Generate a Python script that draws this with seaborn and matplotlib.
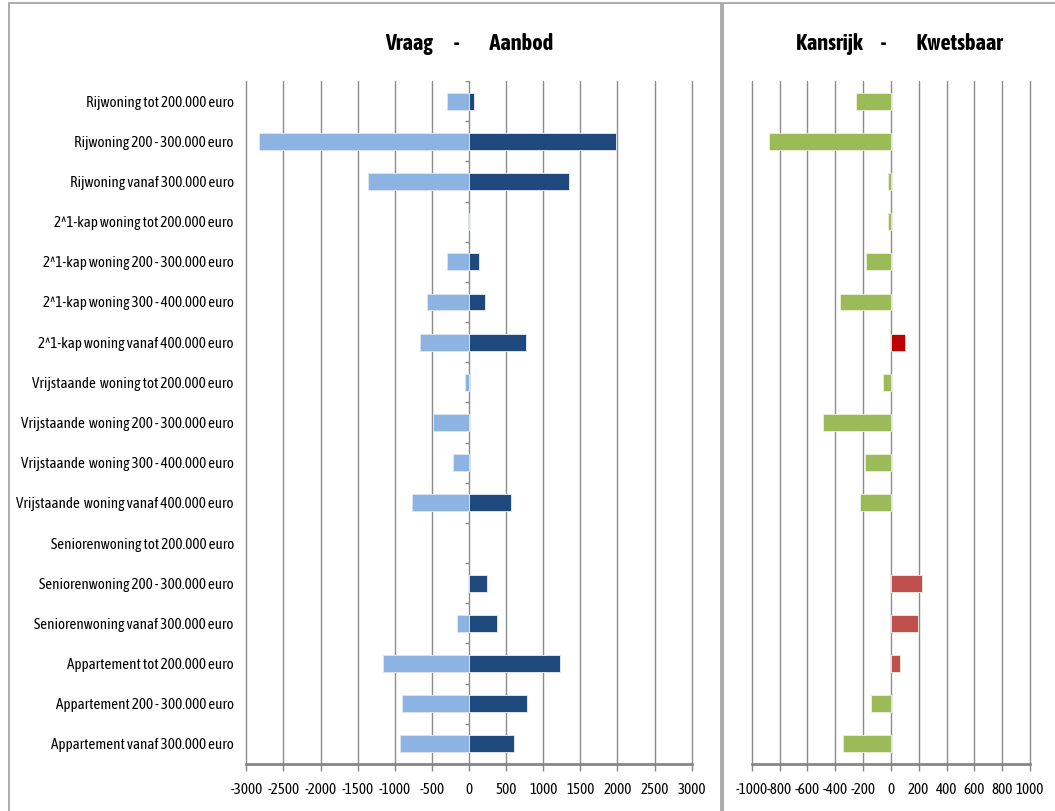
import numpy as np
import pandas as pd
import matplotlib
matplotlib.use("Agg")
import matplotlib.pyplot as plt
from matplotlib import font_manager
from matplotlib.patches import Rectangle
import seaborn as sns

# Woningtypen per prijsklasse
categories = [
    "Rijwoning tot 200.000 euro",
    "Rijwoning 200 - 300.000 euro",
    "Rijwoning vanaf 300.000 euro",
    "2^1-kap woning tot 200.000 euro",
    "2^1-kap woning 200 - 300.000 euro",
    "2^1-kap woning 300 - 400.000 euro",
    "2^1-kap woning vanaf 400.000 euro",
    "Vrijstaande  woning tot 200.000 euro",
    "Vrijstaande  woning 200 - 300.000 euro",
    "Vrijstaande  woning 300 - 400.000 euro",
    "Vrijstaande  woning vanaf 400.000 euro",
    "Seniorenwoning tot 200.000 euro",
    "Seniorenwoning 200 - 300.000 euro",
    "Seniorenwoning vanaf 300.000 euro",
    "Appartement tot 200.000 euro",
    "Appartement 200 - 300.000 euro",
    "Appartement vanaf 300.000 euro",
]

# Vraag (negatief) en aanbod (positief); NaN = geen balk
vraag = [-300, -2835, -1355, -20, -300, -560, -660, -55, -480, -210, -767,
         np.nan, np.nan, -166, -1153, -906, -933]
aanbod = [65, 1975, 1350, np.nan, 140, 220, 767, 20, np.nan, 18, 561,
          np.nan, 242, 381, 1229, 776, 602]

# Saldo: kansrijk (positief) of kwetsbaar (negatief)
saldo = [-250, -879, -17, -24, -182, -363, 105, -60, -485, -189, -225,
         np.nan, 227, 198, 69, -141, -342]
sterk_kansrijk = ["2^1-kap woning vanaf 400.000 euro"]

left_ticks = list(range(-3000, 3001, 500))
right_ticks = list(range(-1000, 1001, 200))

# Smalle letter zoeken (bij voorkeur met een vette variant)
weights = {}
for f in font_manager.fontManager.ttflist:
    n = f.name.lower()
    if ("narrow" in n or "condensed" in n) and f.style == "normal":
        w = f.weight if isinstance(f.weight, int) else 400
        weights.setdefault(f.name, set()).add(w)
condensed = None
bold_ok = False
for name, ws in weights.items():
    if any(w >= 600 for w in ws):
        condensed, bold_ok = name, True
        break
if condensed is None and weights:
    condensed = next(iter(weights))
base_font = condensed if condensed else "Liberation Sans"
lab_size = 10.8 if condensed else 8.3
title_font = base_font if bold_ok else "Liberation Sans"
title_size = 16 if bold_ok else 14

sns.set_theme(style="white")
plt.rcParams["font.family"] = [base_font, "DejaVu Sans"]

GRID = "#8c8c8c"
AXIS = "#868686"

fig = plt.figure(figsize=(10.55, 8.11), dpi=100)
fig.patch.set_facecolor("white")

H = 811.0
W = 1055.0
y_bot = (H - 764) / H
y_h = (764 - 81) / H
ax_l = fig.add_axes([246.3 / W, y_bot, (691.7 - 246.3) / W, y_h])
ax_r = fig.add_axes([751.7 / W, y_bot, (1030.0 - 751.7) / W, y_h])

# Linker paneel: vraag en aanbod
df_l = pd.DataFrame({
    "categorie": categories * 2,
    "reeks": ["Vraag"] * len(categories) + ["Aanbod"] * len(categories),
    "waarde": list(vraag) + list(aanbod),
}).dropna()

sns.barplot(data=df_l, x="waarde", y="categorie", hue="reeks", order=categories,
            hue_order=["Vraag", "Aanbod"], palette={"Vraag": "#8db3e2", "Aanbod": "#1f497d"},
            orient="h", dodge=False, width=0.42, legend=False, ax=ax_l, saturation=1,
            edgecolor="#dbe5f1", linewidth=0.7, zorder=3)

# Rechter paneel: saldo
df_r = pd.DataFrame({"categorie": categories, "waarde": saldo}).dropna()
df_r["groep"] = np.where(df_r["categorie"].isin(sterk_kansrijk), "Sterk",
                         np.where(df_r["waarde"] < 0, "Kwetsbaar", "Kansrijk"))
sns.barplot(data=df_r, x="waarde", y="categorie", hue="groep", order=categories,
            palette={"Kwetsbaar": "#9bbb59", "Kansrijk": "#c0504d", "Sterk": "#c00000"},
            orient="h", dodge=False, width=0.42, legend=False, ax=ax_r, saturation=1,
            edgecolor="#ebf1de", linewidth=0.6, zorder=3)

for ax, ticks in ((ax_l, left_ticks), (ax_r, right_ticks)):
    ax.set_xlim(ticks[0], ticks[-1])
    ax.set_ylim(len(categories) - 0.5, -0.5)
    ax.set_xticks(ticks)
    ax.set_xticklabels([str(t) for t in ticks], fontsize=lab_size, color="black")
    ax.set_xlabel("")
    ax.set_ylabel("")
    for t in ticks:
        ax.axvline(t, color=GRID, lw=1.0, zorder=1, clip_on=False)
    for s in ("top", "right", "left"):
        ax.spines[s].set_visible(False)
    ax.spines["bottom"].set_color(AXIS)
    ax.spines["bottom"].set_linewidth(2.0)
    ax.tick_params(axis="x", bottom=True, length=5, width=1.0, color=AXIS, pad=9)
    ax.tick_params(axis="y", left=False, length=0)
    ax.set_facecolor("white")

ax_l.set_yticks(range(len(categories)))
ax_l.set_yticklabels(categories, fontsize=lab_size, color="black")
ax_l.tick_params(axis="y", pad=9)
ax_r.set_yticks([])

# Categorie-as op nul met maatstreepjes tussen de categorieën
ax_l.hlines(np.arange(len(categories) + 1) - 0.5, -55, 0, color=AXIS, lw=1.0, zorder=2)

# Paneeltitels, op dezelfde hoogte boven beide assen
title_y = 1.0 + 0.65 / len(categories)
ax_l.text(0.5, title_y, "Vraag       -          Aanbod", ha="center", va="bottom",
          color="black", fontsize=title_size, fontweight="bold",
          family=[title_font, "DejaVu Sans"], transform=ax_l.transAxes)
ax_r.text(0.53, title_y, "Kansrijk      -          Kwetsbaar", ha="center", va="bottom",
          color="black", fontsize=title_size, fontweight="bold",
          family=[title_font, "DejaVu Sans"], transform=ax_r.transAxes)

# Kaders rond de twee panelen
fig.add_artist(Rectangle((9 / W, -0.01), (720.5 - 9) / W, (H - 3) / H + 0.01,
                         transform=fig.transFigure, fill=False, ec="#a6a6a6", lw=1.3))
fig.add_artist(Rectangle((723 / W, -0.01), (W - 723 + 5) / W, (H - 3) / H + 0.01,
                         transform=fig.transFigure, fill=False, ec="#a6a6a6", lw=1.3))

fig.savefig("out.png", dpi=100, facecolor="white")
